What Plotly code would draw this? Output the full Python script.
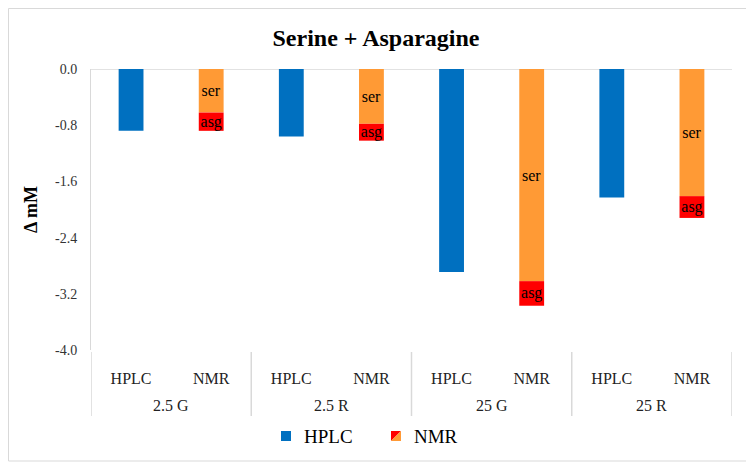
import plotly.graph_objects as go

groups = ["2.5 G", "2.5 R", "25 G", "25 R"]
methods = ["HPLC", "NMR"]
hplc_vals = [-0.88, -0.96, -2.89, -1.83]
ser_vals = [-0.62, -0.78, -3.02, -1.81]
asg_vals = [-0.26, -0.24, -0.35, -0.31]
y_ticks = [0.0, -0.8, -1.6, -2.4, -3.2, -4.0]

BLUE = "#0070C0"
ORANGE = "#FF9A35"
RED = "#FF0000"
GRID = "#D9D9D9"
FONT = "Liberation Serif"

cats = [f"{g} | {m}" for g in groups for m in methods]
hplc_x = [f"{g} | {methods[0]}" for g in groups]
nmr_x = [f"{g} | {methods[1]}" for g in groups]

fig = go.Figure()
fig.add_trace(go.Bar(
    x=hplc_x, y=hplc_vals,
    marker=dict(color=BLUE, line=dict(width=0)), width=0.31, name="HPLC",
    showlegend=False,
))
fig.add_trace(go.Bar(
    x=nmr_x, y=ser_vals,
    marker=dict(color=ORANGE, line=dict(width=0)), width=0.31, name="ser",
    text=["ser"] * len(groups), textposition="inside", insidetextanchor="middle",
    textangle=0, constraintext="none",
    textfont=dict(family=FONT, size=16, color="black"), showlegend=False,
))
fig.add_trace(go.Bar(
    x=nmr_x, y=asg_vals,
    marker=dict(color=RED, line=dict(width=0)), width=0.31, name="asg",
    text=["asg"] * len(groups), textposition="inside", insidetextanchor="middle",
    textangle=0, constraintext="none",
    textfont=dict(family=FONT, size=16, color="black"), showlegend=False,
))

# page body has an 8px margin: work in page pixels and subtract the offset
OFF = 8
W, H = 754 - OFF, 467 - OFF
PL, PR, PT, PB = 91, 732, 69, 350          # plot area in page pixels
L, T = PL - OFF, PT - OFF
R, B = W - (PR - OFF), H - (PB - OFF)
pw, ph = PR - PL, PB - PT

def px(x):
    return (x - PL) / pw

def py(y):
    return (PB - y) / ph

n_per = len(methods)
shapes = [
    dict(type="rect", xref="paper", yref="paper", x0=px(OFF + 0.5), x1=px(750),
         y0=py(461), y1=py(OFF + 0.5), line=dict(color=GRID, width=1), layer="below"),
    dict(type="line", xref="paper", yref="y", x0=0, x1=1, y0=0, y1=0,
         line=dict(color=GRID, width=1.5), layer="below"),
    dict(type="rect", xref="paper", yref="paper", x0=px(281), x1=px(291), y0=py(441), y1=py(431),
         fillcolor=BLUE, line=dict(width=0)),
    dict(type="path", xref="paper", yref="paper",
         path=f"M {px(391)} {py(431)} L {px(401)} {py(431)} L {px(391)} {py(441)} Z",
         fillcolor=RED, line=dict(width=0)),
    dict(type="path", xref="paper", yref="paper",
         path=f"M {px(401)} {py(431)} L {px(401)} {py(441)} L {px(391)} {py(441)} Z",
         fillcolor=ORANGE, line=dict(width=0)),
]
# group dividers below the axis
for i in range(len(groups) + 1):
    shapes.append(dict(type="line", xref="x", yref="paper",
                       x0=i * n_per - 0.5, x1=i * n_per - 0.5, y0=py(352), y1=py(416),
                       line=dict(color=GRID, width=1.5)))

annotations = [
    dict(text="HPLC", xref="paper", yref="paper", x=px(302), y=py(436), xanchor="left",
         yanchor="middle", showarrow=False, font=dict(family=FONT, size=19, color="black")),
    dict(text="NMR", xref="paper", yref="paper", x=px(412), y=py(436), xanchor="left",
         yanchor="middle", showarrow=False, font=dict(family=FONT, size=19, color="black")),
]
# group labels
for i, g in enumerate(groups):
    annotations.append(dict(text=g, xref="x", yref="paper", x=i * n_per + (n_per - 1) / 2,
                            y=py(405), xanchor="center", yanchor="middle", showarrow=False,
                            font=dict(family=FONT, size=16, color="#222222")))

fig.update_layout(
    width=W, height=H,
    margin=dict(l=L, r=R, t=T, b=B, autoexpand=False),
    paper_bgcolor="white", plot_bgcolor="white",
    barmode="relative",
    title=dict(text="<b>Serine + Asparagine</b>", x=(376 - OFF) / W, xref="container",
               xanchor="center", y=1 - (38 - OFF) / H, yanchor="middle",
               font=dict(family=FONT, size=24, color="black")),
    font=dict(family=FONT, color="black"),
    shapes=shapes, annotations=annotations,
    showlegend=False,
    uniformtext=dict(minsize=16, mode="show"),
)
fig.update_yaxes(
    range=[-4.0, 0.0], tickvals=y_ticks, ticktext=[f"{v:.1f}" for v in y_ticks],
    showgrid=False, zeroline=False, showline=True, linecolor=GRID, linewidth=1,
    ticks="", ticklabelstandoff=10,
    tickfont=dict(family=FONT, size=14, color="#333333"),
    title=dict(text="<b>Δ mM</b>", font=dict(family=FONT, size=18, color="black"), standoff=12),
)
fig.update_xaxes(
    type="category", categoryorder="array", categoryarray=cats,
    range=[-0.5, len(cats) - 0.5],
    tickvals=cats, ticktext=[m for _ in groups for m in methods],
    showgrid=False, zeroline=False, showline=False, ticks="",
    ticklabelstandoff=17,
    tickfont=dict(family=FONT, size=16, color="#222222"),
)

fig.write_html("out.html")
